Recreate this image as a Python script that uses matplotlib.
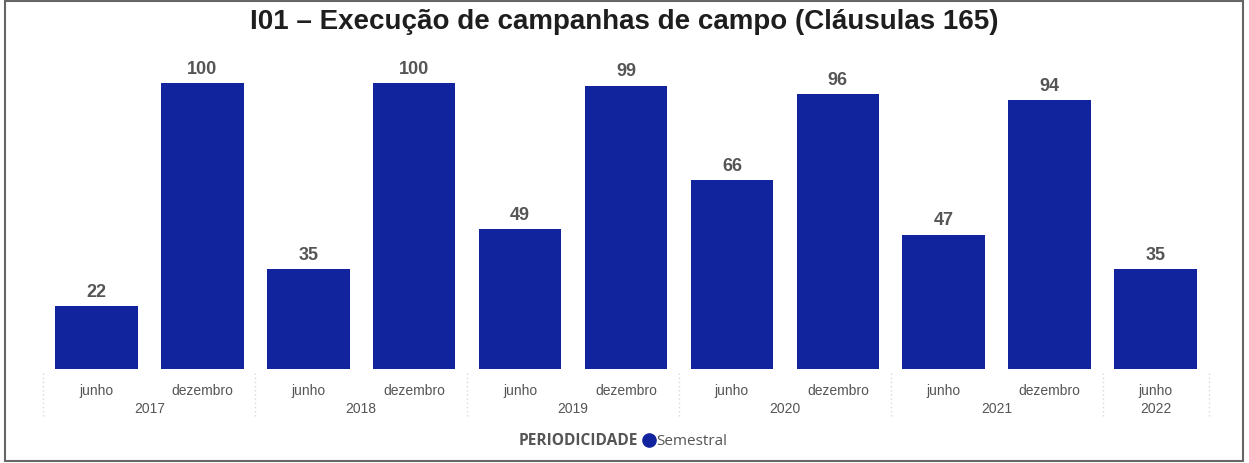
import matplotlib
matplotlib.use("Agg")
import matplotlib.pyplot as plt
from matplotlib.patches import Rectangle
from matplotlib.lines import Line2D

months = ["junho", "dezembro", "junho", "dezembro", "junho", "dezembro",
          "junho", "dezembro", "junho", "dezembro", "junho"]
years = ["2017", "2018", "2019", "2020", "2021", "2022"]
year_counts = [2, 2, 2, 2, 2, 1]
values = [22, 100, 35, 100, 49, 99, 66, 96, 47, 94, 35]

bar_color = "#12239E"
txt_grey = "#555555"

fig = plt.figure(figsize=(12.49, 4.64), dpi=100)
ax = fig.add_axes([0.0348, 0.2026, 0.9328, 0.69])
x = list(range(len(values)))
ax.bar(x, values, width=0.78, color=bar_color)
ax.set_xlim(-0.5, len(values) - 0.5)
ax.set_ylim(0, 111.9)
for xi, v in zip(x, values):
    ax.text(xi, v + 2.2, f"{v}", ha="center", va="bottom", fontsize=13,
            fontweight="bold", color=txt_grey, family="Liberation Sans")
ax.axis("off")

# month labels
for xi, m in zip(x, months):
    ax.text(xi, -7.2, m, ha="center", va="center", fontsize=10, color=txt_grey,
            family="Liberation Sans", clip_on=False)

# year labels and separators
start = 0
bounds = [-0.5]
for y, c in zip(years, year_counts):
    center = start + (c - 1) / 2
    ax.text(center, -13.5, y, ha="center", va="center", fontsize=10, color=txt_grey,
            family="Liberation Sans", clip_on=False)
    start += c
    bounds.append(start - 0.5)
for b in bounds:
    ax.add_line(Line2D([b, b], [-1.5, -17], color="#d8d8d8", lw=1, ls=(0, (1, 2)),
                       clip_on=False))

fig.text(0.5, 0.952, "I01 – Execução de campanhas de campo (Cláusulas 165)",
         ha="center", va="center", fontsize=20, fontweight="bold",
         family="Liberation Sans", color="#1e1e1e")

# legend
fig.text(0.5105, 0.049, "PERIODICIDADE", ha="right", va="center", fontsize=11.2,
         fontweight="bold", color=txt_grey, family="Open Sans")
fig.add_artist(Line2D([0.5195], [0.049], marker="o", markersize=9.5, color=bar_color,
                      transform=fig.transFigure))
fig.text(0.5255, 0.049, "Semestral", ha="left", va="center", fontsize=11,
         color=txt_grey, family="Open Sans")

# frame
fig.add_artist(Rectangle((0.004, 0.004), 0.991, 0.992, transform=fig.transFigure,
                         fill=False, edgecolor="#666666", lw=1.5))

fig.savefig("out.png", dpi=100)
